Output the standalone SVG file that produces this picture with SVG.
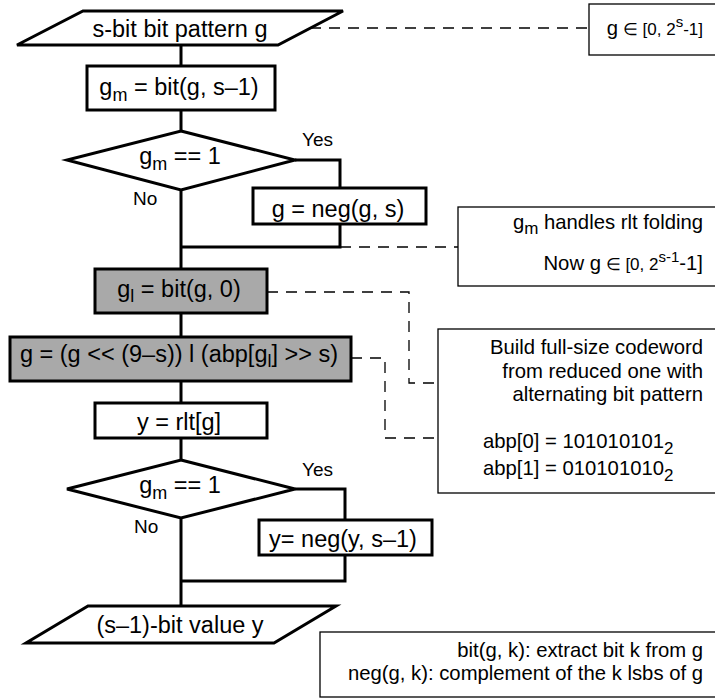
<svg xmlns="http://www.w3.org/2000/svg" width="715" height="698" viewBox="0 0 715 698">
<style>
  .node { fill: #ffffff; stroke: #000000; stroke-width: 3; }
  .gray { fill: #a9a9a9; stroke: #000000; stroke-width: 3; }
  .note { fill: #ffffff; stroke: #000000; stroke-width: 1.3; }
  .conn { fill: none; stroke: #000000; stroke-width: 3; }
  .dash { fill: none; stroke: #000000; stroke-width: 1.3; stroke-dasharray: 11 8; }
  text { font-family: "Liberation Sans", Arial, Helvetica, sans-serif; fill: #000000; }
  .main { font-size: 23.5px; text-anchor: middle; }
  .lbl { font-size: 19px; }
  .ann { font-size: 20.3px; text-anchor: end; }
  .annl { font-size: 20.3px; }
  .sub { font-size: 18px; }
</style>
<rect width="715" height="698" fill="#ffffff"/>

<g id="connectors">
  <path class="conn" d="M181 45 V66 M181 110 V131 M181 190 V269 M181 313 V337 M181 381 V403 M181 438 V460 M181 518 V606"/>
  <path class="conn" d="M295 160 H340 V188 M340 224 V247 H181"/>
  <path class="conn" d="M295 489 H345 V520 M345 555 V581 H181"/>
  <path class="dash" d="M310 28 H589"/>
  <path class="dash" d="M340 247 H458"/>
  <path class="dash" d="M267 292 H409 V383 H438"/>
  <path class="dash" d="M351 358 H385 V438 H438"/>
</g>

<g id="input">
  <polygon class="node" points="83,11 343,11 278,45 17,45"/>
  <text class="main" x="180" y="37">s-bit bit pattern g</text>
</g>

<g id="gm_bit">
  <rect class="node" x="87" y="66" width="188" height="44"/>
  <text class="main" x="179" y="95">g<tspan class="sub" dy="6">m</tspan><tspan dy="-6"> = bit(g, s–1)</tspan></text>
</g>

<g id="decision1">
  <polygon class="node" points="181,131 295,160 181,190 67,160"/>
  <text class="main" x="180" y="164">g<tspan class="sub" dy="6">m</tspan><tspan dy="-6"> == 1</tspan></text>
  <text class="lbl" x="302" y="146">Yes</text>
  <text class="lbl" x="133" y="205">No</text>
</g>

<g id="neg_g">
  <rect class="node" x="253" y="188" width="173" height="36"/>
  <text class="main" x="338" y="217">g = neg(g, s)</text>
</g>

<g id="gl_bit">
  <rect class="gray" x="95" y="269" width="172" height="44"/>
  <text class="main" x="179" y="297">g<tspan class="sub" dy="5">l</tspan><tspan dy="-5"> = bit(g, 0)</tspan></text>
</g>

<g id="expand">
  <rect class="gray" x="10" y="337" width="341" height="44"/>
  <text class="main" x="179" y="362">g = (g &lt;&lt; (9–s)) l (abp[g<tspan class="sub" dy="5">l</tspan><tspan dy="-5">] &gt;&gt; s)</tspan></text>
</g>

<g id="rlt">
  <rect class="node" x="95" y="403" width="172" height="35"/>
  <text class="main" x="179" y="430">y = rlt[g]</text>
</g>

<g id="decision2">
  <polygon class="node" points="181,460 295,489 181,518 67,489"/>
  <text class="main" x="180" y="493">g<tspan class="sub" dy="6">m</tspan><tspan dy="-6"> == 1</tspan></text>
  <text class="lbl" x="302" y="476">Yes</text>
  <text class="lbl" x="134" y="533">No</text>
</g>

<g id="neg_y">
  <rect class="node" x="259" y="520" width="173" height="35"/>
  <text class="main" x="343" y="547">y= neg(y, s–1)</text>
</g>

<g id="output">
  <polygon class="node" points="88,606 336,606 274,643 26,643"/>
  <text class="main" x="180" y="633">(s–1)-bit value y</text>
</g>

<g id="note_range">
  <rect class="note" x="589" y="4" width="140" height="51"/>
  <text class="ann" x="703" y="35">g<tspan font-size="17"> ∈ [0, 2</tspan><tspan font-size="15" dy="-8">s</tspan><tspan font-size="17" dy="8">-1]</tspan></text>
</g>

<g id="note_folding">
  <rect class="note" x="458" y="207" width="270" height="79"/>
  <text class="ann" x="703" y="229">g<tspan font-size="17" dy="5">m</tspan><tspan dy="-5"> handles rlt folding</tspan></text>
  <text class="ann" x="703" y="270">Now g<tspan font-size="17"> ∈ [0, 2</tspan><tspan font-size="15" dy="-8">s-1</tspan><tspan dy="8">-1]</tspan></text>
</g>

<g id="note_abp">
  <rect class="note" x="438" y="329" width="290" height="164"/>
  <text class="ann" x="703" y="354">Build full-size codeword</text>
  <text class="ann" x="703" y="378">from reduced one with</text>
  <text class="ann" x="703" y="401">alternating bit pattern</text>
  <text class="annl" x="483" y="448">abp[0] = 101010101<tspan font-size="17" dy="6">2</tspan></text>
  <text class="annl" x="483" y="475">abp[1] = 010101010<tspan font-size="17" dy="6">2</tspan></text>
</g>

<g id="note_legend">
  <rect class="note" x="320" y="632" width="410" height="65"/>
  <text class="ann" x="703" y="657">bit(g, k): extract bit k from g</text>
  <text class="ann" x="703" y="680">neg(g, k): complement of the k lsbs of g</text>
</g>
</svg>
